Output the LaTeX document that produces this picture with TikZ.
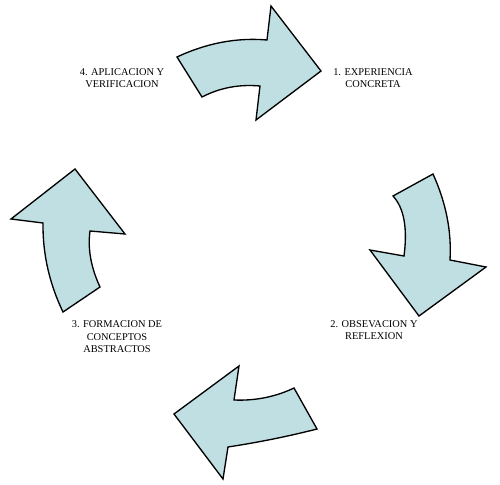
\documentclass[tikz,border=0pt]{standalone}
\usepackage{fontspec}
\setmainfont{Liberation Serif}
\usetikzlibrary{positioning}
\definecolor{arrowblue}{RGB}{191,223,227}

\begin{document}
\begin{tikzpicture}[x=0.75pt, y=-0.75pt,
  bentarrow/.style={draw=black, fill=arrowblue, line width=1pt, line join=miter},
  stage/.style={align=center, inner sep=0pt, font=\fontsize{7.8}{9.4}\selectfont}]
\useasboundingbox (0,0) rectangle (500,485);

% 1 -> top arrow
\draw[bentarrow] (177,57) .. controls (206.6,43.1) and (236.6,37.4) .. (267,40)
  -- (271,6) -- (321,71) -- (256,120)
  -- (260,86) .. controls (239.3,84.1) and (220,87.7) .. (202,97) -- cycle;
% 2 -> right arrow
\draw[bentarrow] (433,174) .. controls (446,202.7) and (451.7,231.3) .. (450,260)
  -- (486,267) -- (419,316) -- (370,250)
  -- (404,256) .. controls (407.7,228) and (404,208) .. (393,196) -- cycle;
% 3 -> bottom arrow
\draw[bentarrow] (317,429) .. controls (288.4,436.3) and (258.7,442.3) .. (228,447)
  -- (223,479) -- (174,414) -- (239,366)
  -- (234,400) .. controls (255.3,400.9) and (275.3,396.9) .. (294,388) -- cycle;
% 4 -> left arrow
\draw[bentarrow] (63,312) .. controls (49.3,283.4) and (42.6,253.7) .. (43,223)
  -- (11,219) -- (75,169) -- (125,234)
  -- (90,231) .. controls (87.6,248.7) and (90.9,267.4) .. (100,287) -- cycle;

% stages
\node[stage] (concreta)   at (373,78)  {1. EXPERIENCIA\\CONCRETA};
\node[stage] (reflexion)  at (374,330) {2. OBSEVACION Y\\REFLEXION};
\node[stage] (abstractos) at (117,337) {3. FORMACION DE\\CONCEPTOS\\ABSTRACTOS};
\node[stage] (aplicacion) at (122,78)  {4. APLICACION Y\\VERIFICACION};
\end{tikzpicture}
\end{document}
